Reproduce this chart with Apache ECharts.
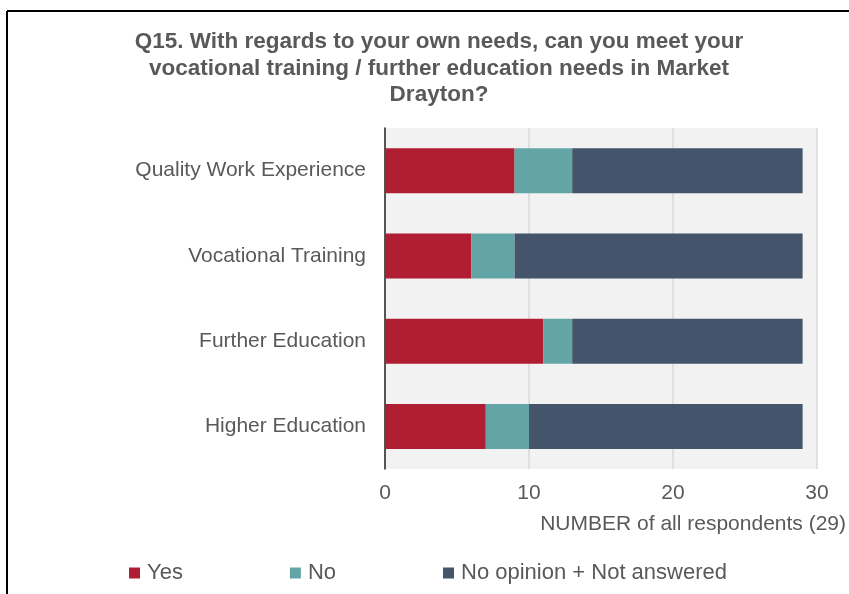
<!DOCTYPE html>
<html>
<head>
<meta charset="utf-8">
<title>Q15</title>
<script src="https://cdn.jsdelivr.net/npm/echarts@6/dist/echarts.min.js"></script>
<style>
  html, body { margin: 0; padding: 0; background: #fff; }
  #main { width: 849px; height: 594px; }
</style>
</head>
<body>
<div id="main"></div>
<script>
// categories, top to bottom
var categories = ['Quality Work Experience', 'Vocational Training', 'Further Education', 'Higher Education'];
var yesData = [9, 6, 11, 7];
var noData = [4, 3, 2, 3];
var noOpinionData = [16, 20, 16, 19];
var xTicks = [0, 10, 20, 30];

var font = "'Liberation Sans', Arial, sans-serif";
var textColor = '#595959';

var chart = echarts.init(document.getElementById('main'));

chart.setOption({
  animation: false,
  backgroundColor: '#ffffff',
  title: {
    text: 'Q15. With regards to your own needs, can you meet your\nvocational training / further education needs in Market\nDrayton?',
    left: 434,
    top: 24,
    textAlign: 'center',
    textStyle: {
      fontFamily: font,
      fontSize: 22.5,
      fontWeight: 'bold',
      color: textColor,
      lineHeight: 26.5
    }
  },
  graphic: [
    { type: 'line', shape: { x1: 7, y1: 11, x2: 849, y2: 11 }, style: { stroke: '#000', lineWidth: 2 } },
    { type: 'line', shape: { x1: 7, y1: 11, x2: 7, y2: 594 }, style: { stroke: '#000', lineWidth: 2 } }
  ],
  legend: {
    left: 124,
    top: 557,
    itemWidth: 11,
    itemHeight: 11,
    itemGap: 107,
    icon: 'rect',
    textStyle: { fontFamily: font, fontSize: 22, color: textColor, padding: [0, 0, 0, 2] },
    data: ['Yes', 'No', 'No opinion + Not answered']
  },
  grid: {
    left: 385,
    right: 29,
    top: 128,
    bottom: 125,
    show: true,
    backgroundColor: '#f2f2f2',
    borderWidth: 0
  },
  xAxis: {
    type: 'value',
    min: xTicks[0],
    max: xTicks[xTicks.length - 1],
    interval: 10,
    name: 'NUMBER of all respondents (29)',
    nameLocation: 'end',
    nameGap: 29,
    nameTextStyle: {
      fontFamily: font,
      fontSize: 21,
      color: textColor,
      align: 'right',
      verticalAlign: 'top',
      padding: [45, 0, 0, 0]
    },
    axisLine: { show: false },
    axisTick: { show: false },
    axisLabel: { fontFamily: font, fontSize: 21, color: textColor, margin: 14 },
    splitLine: { show: true, lineStyle: { color: '#d9d9d9', width: 1.5 } }
  },
  yAxis: {
    type: 'category',
    inverse: true,
    data: categories,
    axisLine: { show: true, lineStyle: { color: '#262626', width: 1.5 } },
    axisTick: { show: false },
    axisLabel: { fontFamily: font, fontSize: 21, color: textColor, margin: 19 }
  },
  series: [
    { name: 'Yes', type: 'bar', stack: 'total', barWidth: 45, data: yesData,
      itemStyle: { color: '#b01e33' } },
    { name: 'No', type: 'bar', stack: 'total', data: noData,
      itemStyle: { color: '#63a5a7' } },
    { name: 'No opinion + Not answered', type: 'bar', stack: 'total', data: noOpinionData,
      itemStyle: { color: '#44546a' } }
  ]
});
</script>
</body>
</html>
